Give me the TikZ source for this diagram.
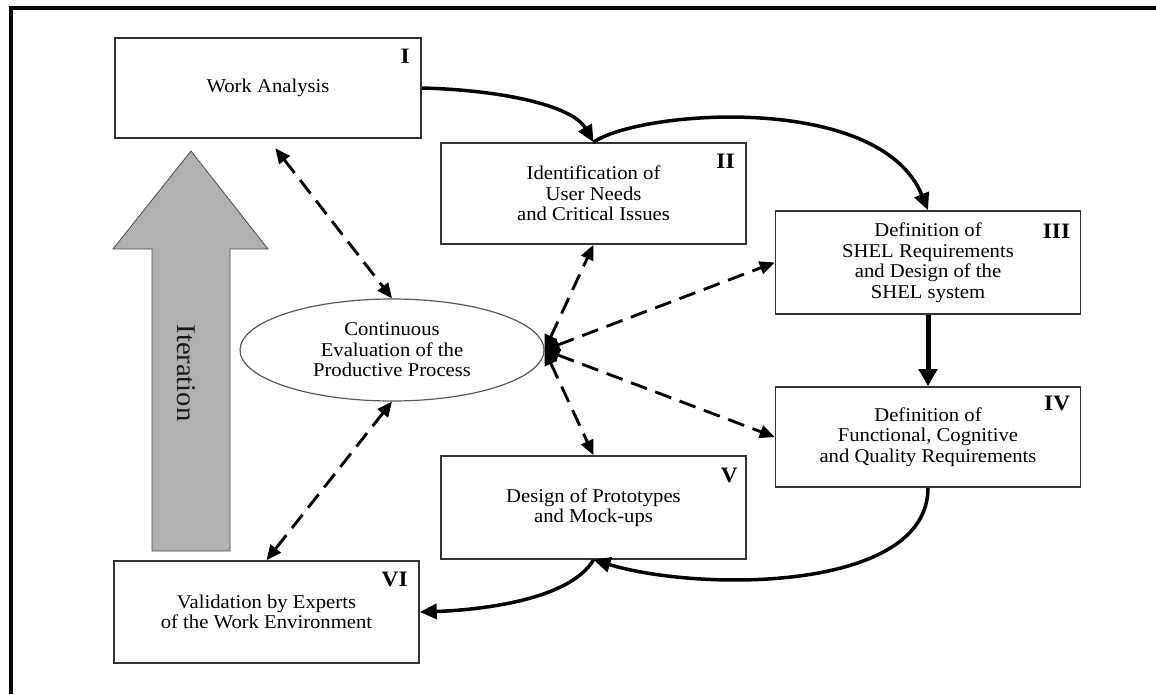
\documentclass[tikz,border=0pt]{standalone}
\usepackage{fontspec}
\setmainfont{Liberation Serif}[FakeStretch=1.06]
\usetikzlibrary{shapes.geometric,arrows.meta}
\definecolor{itergray}{RGB}{176,176,176}
\begin{document}
\begin{tikzpicture}[x=1pt,y=-1pt,
  stage/.style={draw=black!80, line width=1.6pt, minimum width=305pt,
    minimum height=101pt, inner sep=0pt, align=center,
    font=\fontsize{19.5}{20.5}\selectfont},
  numeral/.style={anchor=north east, inner sep=0pt,
    font=\fontsize{22}{22}\selectfont\bfseries},
  flow/.style={line width=3.5pt, -{Triangle[length=17pt,width=15pt]}},
  link/.style={line width=2.9pt, dash pattern=on 17pt off 9pt,
    {Triangle[length=15pt,width=13pt]}-{Triangle[length=15pt,width=13pt]}},
]
\useasboundingbox (0,0) rectangle (1156,694);

% frame (top and left edges)
\draw[line width=3.8pt] (8.7,7.8) -- (1156,7.8);
\draw[line width=4pt] (10.7,6) -- (10.7,694);

% iteration arrow
\draw[fill=itergray, draw=black!70, line width=0.8pt]
  (191,151) -- (268,249) -- (230,249) -- (230,551) -- (152,551)
  -- (152,249) -- (113,249) -- cycle;
\node[rotate=-90, text=black!90, font=\fontsize{27}{27}\selectfont] (iter) at (186,373) {Iteration};

% stages
\node[stage, minimum width=306pt, minimum height=100pt] (wa) at (268,88) {Work Analysis};
\node[stage] (un) at (593.5,193.5) {Identification of\\User Needs\\and Critical Issues};
\node[stage, minimum height=103pt] (shel) at (928,262.5) {Definition of\\SHEL Requirements\\and Design of the\\SHEL system};
\node[stage, minimum height=100pt] (fcq) at (928,437) {Definition of\\Functional, Cognitive\\and Quality Requirements};
\node[stage, minimum height=103pt] (proto) at (593.5,507.5) {Design of Prototypes\\and Mock-ups};
\node[stage, minimum height=102pt] (valid) at (266.5,612) {Validation by Experts\\of the Work Environment};

\node[draw=black!65, line width=1.2pt, ellipse, minimum width=304pt,
  minimum height=102pt, inner sep=0pt, align=center,
  font=\fontsize{19.5}{20.5}\selectfont] (eval) at (392,350)
  {Continuous\\Evaluation of the\\Productive Process};

% stage numerals
\node[numeral] (nI)   at ([xshift=-12pt,yshift=-12pt]wa.north east) {I};
\node[numeral] (nII)  at ([xshift=-12pt,yshift=-12pt]un.north east) {II};
\node[numeral] (nIII) at ([xshift=-11pt,yshift=-14pt]shel.north east) {III};
\node[numeral] (nIV)  at ([xshift=-11pt,yshift=-10pt]fcq.north east) {IV};
\node[numeral] (nV)   at ([xshift=-9pt,yshift=-13pt]proto.north east) {V};
\node[numeral] (nVI)  at ([xshift=-12pt,yshift=-12pt]valid.north east) {VI};

% main process flow
\draw[flow] (wa.east) .. controls (500,90) and (572,105) .. (un.north);
\draw[flow] (un.north) .. controls (640,110) and (880,92) .. (shel.north);
\draw[flow, line width=5pt, -{Triangle[length=17pt,width=18pt]}] (shel.south) -- (fcq.north);
\draw[flow] (fcq.south) .. controls (928,592) and (700,592) .. (proto.south);
\draw[flow] (proto.south) .. controls (570,600) and (480,610) .. (valid.east);

% evaluation links
\draw[link, shorten <=12pt] (wa.south) -- (eval.north);
\draw[link] (eval.south) -- (valid.north);
\draw[link] (eval.east) -- (un.south);
\draw[link] (eval.east) -- (shel.west);
\draw[link] (eval.east) -- (fcq.west);
\draw[link] (eval.east) -- (proto.north);
\end{tikzpicture}
\end{document}
